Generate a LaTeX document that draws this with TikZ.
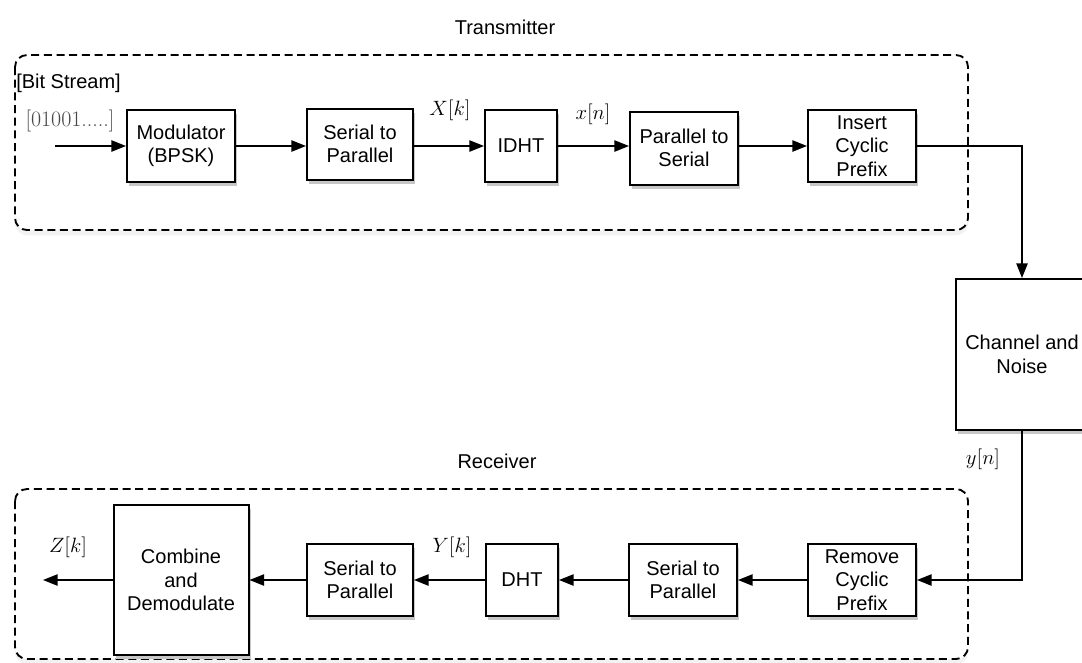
\documentclass[tikz,border=0pt]{standalone}
\usepackage{graphicx}
\usepackage{fontspec}
\setmainfont{Liberation Sans}
\newfontfamily\lmrfont{Latin Modern Roman}
\usetikzlibrary{arrows.meta,shadows}
\newcommand{\mlb}[1]{\scalebox{1.08}{$#1$}}
\begin{document}
\begin{tikzpicture}[x=0.75pt,y=-0.75pt,
  txt/.style={font=\fontsize{15}{17.5}\selectfont},
  blk/.style={draw,line width=1.5pt,fill=white,align=center,txt,
    minimum width=81pt,minimum height=54pt,inner sep=2pt,
    drop shadow={fill=black!22,opacity=1,shadow xshift=1.5pt,shadow yshift=-3pt}},
  grp/.style={draw,line width=1.4pt,dash pattern=on 6pt off 3.5pt,rounded corners=9pt,
    drop shadow={fill=black!5,opacity=1,shadow xshift=0pt,shadow yshift=-4pt}, fill=white},
  conn/.style={line width=1.1pt,-{Triangle[length=11pt,width=8.5pt]}},
  mlab/.style={font=\fontsize{14.4}{17}\selectfont}]
\useasboundingbox (0,0) rectangle (1082,662);
% groups
\draw[grp] (15,55) rectangle (968,230);
\draw[grp] (15,489) rectangle (968,659);
\node[txt] (ttx) at (505,27) {Transmitter};
\node[txt] (trx) at (497,461) {Receiver};
\node[txt,anchor=west,inner sep=0pt] (bits) at (16,83) {[Bit Stream]};
\node[font=\fontsize{16.5}{18}\selectfont,text=black!72] (seq) at (70,121) {\lmrfont [01001.....]};
% transmitter blocks
\node[blk] (mod) at (181,146) {Modulator\\(BPSK)};
\node[blk,minimum width=79.5pt,minimum height=53.25pt] (s2p) at (360,144) {Serial to\\Parallel};
\node[blk,minimum width=54pt] (idht) at (521,146) {IDHT};
\node[blk,minimum height=54.75pt] (p2s) at (684,148) {Parallel to\\Serial};
\node[blk] (icp) at (862,146) {Insert\\Cyclic\\Prefix};
\node[blk,minimum width=99pt,minimum height=113.25pt] (chan) at (1022,354.5) {Channel and\\Noise};
% receiver blocks
\node[blk] (rcp) at (862,580) {Remove\\Cyclic\\Prefix};
\node[blk] (s2pr) at (683,580) {Serial to\\Parallel};
\node[blk,minimum width=54pt] (dht) at (522,580) {DHT};
\node[blk,minimum width=79.5pt] (s2pr2) at (360,580) {Serial to\\Parallel};
\node[blk,minimum width=101.25pt,minimum height=112.5pt] (comb) at (181,580) {Combine\\and\\Demodulate};
% math labels
\node[mlab] (Xk) at (450,110) {\mlb{X[k]}};
\node[mlab] (xn) at (593,114) {\mlb{x[n]}};
\node[mlab] (yn) at (983,459) {\mlb{y[n]}};
\node[mlab] (Yk) at (452,547) {\mlb{Y[k]}};
\node[mlab] (Zk) at (68,547) {\mlb{Z[k]}};
% connectors
\coordinate (in) at (55,146);
\coordinate (out) at (43,580);
\draw[conn] (in) -- (mod.west);
\draw[conn] (mod.east) -- (mod.east -| s2p.west);
\draw[conn] (s2p.east |- idht.west) -- (idht.west);
\draw[conn] (idht.east) -- (idht.east -| p2s.west);
\draw[conn] (p2s.east |- icp.west) -- (icp.west);
\draw[conn] (icp.east) -| (chan.north);
\draw[conn] (chan.south) |- (rcp.east);
\draw[conn] (rcp.west) -- (s2pr.east);
\draw[conn] (s2pr.west) -- (dht.east);
\draw[conn] (dht.west) -- (s2pr2.east);
\draw[conn] (s2pr2.west) -- (comb.east);
\draw[conn] (comb.west) -- (out);
\end{tikzpicture}
\end{document}
